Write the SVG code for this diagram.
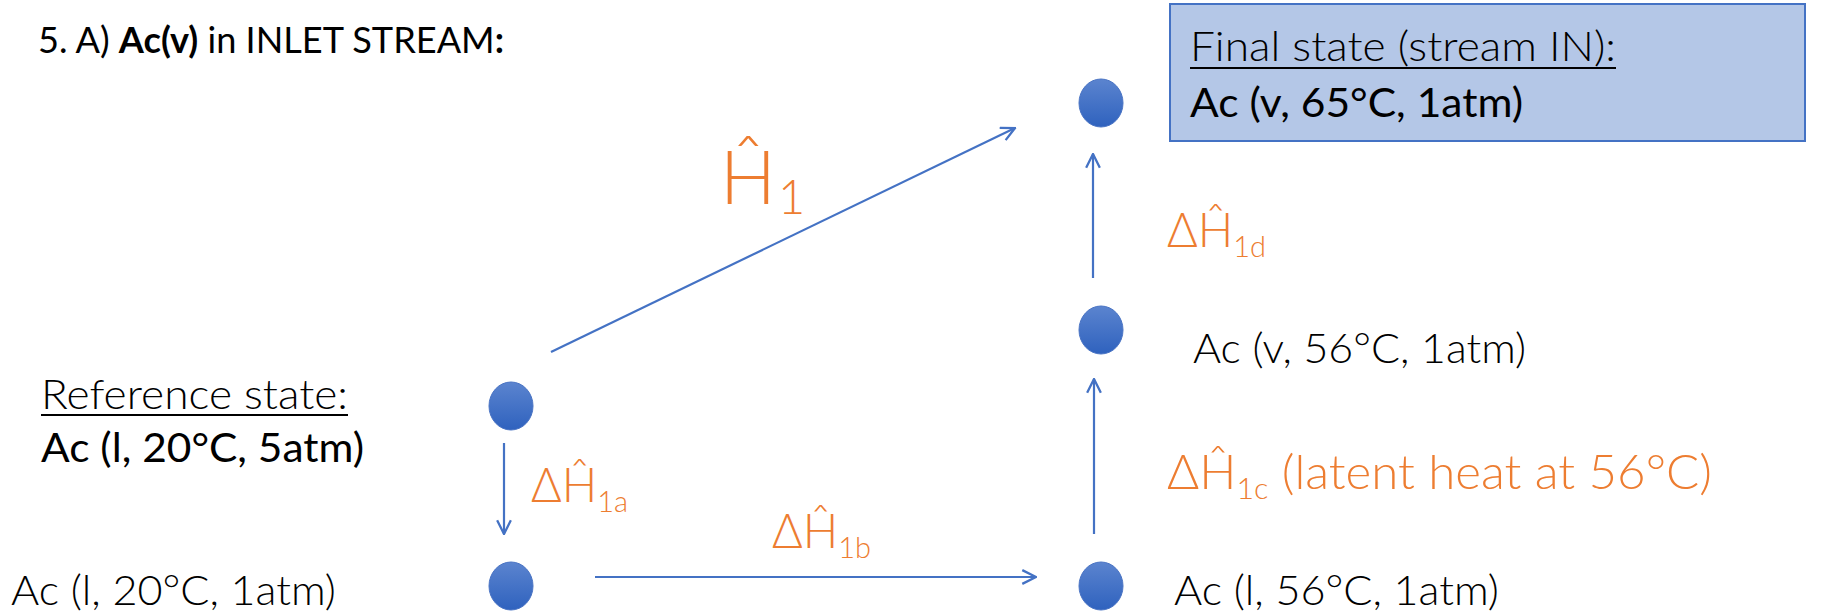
<svg xmlns="http://www.w3.org/2000/svg" width="1829" height="613" viewBox="0 0 1829 613">
<defs>
<linearGradient id="dotg" x1="0" y1="0" x2="0" y2="1">
<stop offset="0" stop-color="#5b84cf"/>
<stop offset="1" stop-color="#2f62be"/>
</linearGradient>
<marker id="arr" viewBox="0 0 14 14" refX="13" refY="7" markerWidth="16" markerHeight="16" orient="auto" markerUnits="userSpaceOnUse">
<path d="M1,1 L13,7 L1,13" fill="none" stroke="#4472c4" stroke-width="2"/>
</marker>
</defs>
<style>
.dot{fill:url(#dotg);stroke:#4a74c4;stroke-width:1}
.conn{stroke:#4472c4;stroke-width:2.2;fill:none;marker-end:url(#arr)}
.lt{font-family:Lato,"Open Sans","Liberation Sans",sans-serif;font-weight:300;fill:#000}
.rg{font-family:Lato,"Open Sans","Liberation Sans",sans-serif;font-weight:400;fill:#000}
.or{font-family:Lato,"Open Sans","Liberation Sans",sans-serif;font-weight:300;fill:#ed7d31}
.b{font-weight:700}
.ul{stroke:#000;stroke-width:2}
</style>
<rect width="1829" height="613" fill="#fff"/>
<text class="rg" x="38" y="53" font-size="36" textLength="466" lengthAdjust="spacingAndGlyphs">5. A) <tspan class="b">Ac(v)</tspan> in INLET STREAM<tspan class="b">:</tspan></text>

<g id="final">
<rect x="1170" y="4" width="635" height="137" fill="#b4c7e7" stroke="#4472c4" stroke-width="2"/>
<text class="lt" x="1190" y="61" font-size="41.5" textLength="426" lengthAdjust="spacingAndGlyphs">Final state (stream IN):</text>
<line class="ul" x1="1190" y1="68" x2="1616" y2="68"/>
<text class="rg" x="1190" y="117" font-size="41.5" textLength="333" lengthAdjust="spacingAndGlyphs">Ac (v, 65°C, 1atm)</text>
</g>
<g id="n-final"><ellipse class="dot" cx="1101" cy="103" rx="22" ry="24"/></g>
<g id="n-v56"><ellipse class="dot" cx="1101" cy="330" rx="22" ry="24"/>
<text class="lt" x="1193" y="363" font-size="41.5" textLength="333" lengthAdjust="spacingAndGlyphs">Ac (v, 56°C, 1atm)</text></g>
<g id="n-ref"><ellipse class="dot" cx="511" cy="406" rx="22" ry="24"/>
<text class="lt" x="41" y="409" font-size="41.5" textLength="307" lengthAdjust="spacingAndGlyphs">Reference state:</text>
<line class="ul" x1="41" y1="415" x2="348" y2="415"/>
<text class="rg" x="41" y="462" font-size="41.5" textLength="323" lengthAdjust="spacingAndGlyphs">Ac (l, 20°C, 5atm)</text></g>
<g id="n-l20"><ellipse class="dot" cx="511" cy="586" rx="22" ry="24"/>
<text class="lt" x="11" y="605" font-size="41.5" textLength="325" lengthAdjust="spacingAndGlyphs">Ac (l, 20°C, 1atm)</text></g>
<g id="n-l56"><ellipse class="dot" cx="1101" cy="586" rx="22" ry="24"/>
<text class="lt" x="1174" y="605" font-size="41.5" textLength="325" lengthAdjust="spacingAndGlyphs">Ac (l, 56°C, 1atm)</text></g>

<g id="connectors">
<line class="conn" x1="551" y1="352" x2="1015" y2="128"/>
<line class="conn" x1="1093" y1="278" x2="1093" y2="154"/>
<line class="conn" x1="1094" y1="534" x2="1094" y2="379"/>
<line class="conn" x1="504" y1="443" x2="504" y2="534"/>
<line class="conn" x1="595" y1="577" x2="1036" y2="577"/>
</g>

<g id="labels">
<text class="or" x="720" y="204" font-size="74">Ĥ<tspan font-size="47" dx="2" dy="10">1</tspan></text>
<text class="or" x="1167" y="247" font-size="47">ΔĤ<tspan font-size="29" dy="10">1d</tspan></text>
<text class="or" x="1167" y="489" font-size="47" textLength="545" lengthAdjust="spacingAndGlyphs">ΔĤ<tspan font-size="29" dy="10">1c</tspan><tspan dy="-10"> (latent heat at 56°C)</tspan></text>
<text class="or" x="531" y="502" font-size="47">ΔĤ<tspan font-size="29" dy="10">1a</tspan></text>
<text class="or" x="772" y="548" font-size="47">ΔĤ<tspan font-size="29" dy="10">1b</tspan></text>
</g>
</svg>
